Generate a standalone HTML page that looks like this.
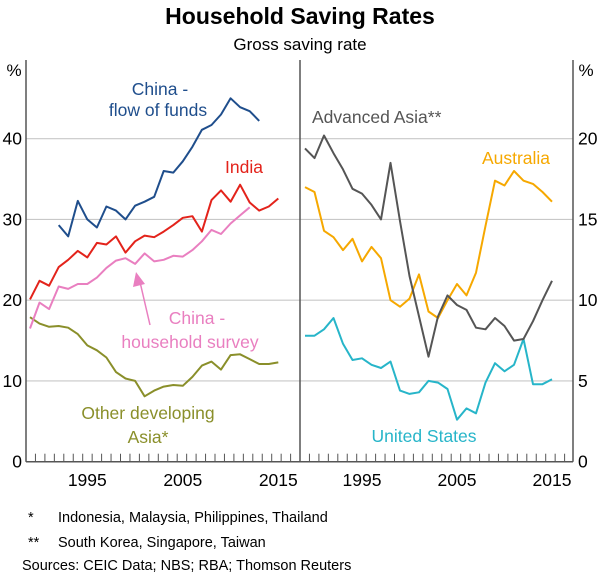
<!DOCTYPE html>
<html><head><meta charset="utf-8"><style>
body{margin:0;background:#fff;}
svg{display:block;font-family:"Liberation Sans",Arial,sans-serif;}
</style></head><body>
<svg id="c" width="600" height="573" viewBox="0 0 600 573">
<text x="300" y="24" text-anchor="middle" font-size="23" font-weight="bold" fill="#000">Household Saving Rates</text>
<text x="300" y="50" text-anchor="middle" font-size="17" fill="#000">Gross saving rate</text>
<text x="14" y="76" text-anchor="middle" font-size="17">%</text>
<text x="586" y="76" text-anchor="middle" font-size="17">%</text>
<g id="grid"></g><g id="series"></g><g id="axes"></g>
<g font-size="17.5">
<text x="160" y="95" text-anchor="middle" fill="#1f4e8c">China -</text>
<text x="158" y="116" text-anchor="middle" fill="#1f4e8c">flow of funds</text>
<text x="244" y="173" text-anchor="middle" fill="#e3231b">India</text>
<text x="197" y="324" text-anchor="middle" fill="#e97fc0">China -</text>
<text x="190" y="348" text-anchor="middle" fill="#e97fc0">household survey</text>
<text x="148" y="419" text-anchor="middle" fill="#8a8f2a">Other developing</text>
<text x="148" y="443" text-anchor="middle" fill="#8a8f2a">Asia*</text>
<text x="312" y="123" fill="#555">Advanced Asia**</text>
<text x="516" y="164" text-anchor="middle" fill="#f6a800">Australia</text>
<text x="424" y="442" text-anchor="middle" fill="#27b5c9">United States</text>
</g>
<g>
<line x1="150" y1="325" x2="140" y2="282" stroke="#e97fc0" stroke-width="1.5"/>
<polygon points="136,272 133,287 145,284" fill="#e97fc0"/>
</g>
<g font-size="14.5" fill="#000">
<text x="28" y="522">*</text>
<text x="58" y="522">Indonesia, Malaysia, Philippines, Thailand</text>
<text x="28" y="547">**</text>
<text x="58" y="547">South Korea, Singapore, Taiwan</text>
<text x="22" y="570">Sources:  CEIC Data; NBS; RBA; Thomson Reuters</text>
</g>
</svg>
<script>
const years = [1989,1990,1991,1992,1993,1994,1995,1996,1997,1998,1999,2000,2001,2002,2003,2004,2005,2006,2007,2008,2009,2010,2011,2012,2013,2014,2015];
const india = [20.1,22.4,21.8,24.1,25,26.1,25.3,27.1,26.9,27.9,25.9,27.3,28,27.8,28.5,29.3,30.2,30.4,28.5,32.4,33.6,32.2,34.3,32.1,31.1,31.6,32.6];
const chinaFof = [null,null,null,29.3,27.9,32.3,30,29,31.6,31.1,30,31.7,32.2,32.8,36,35.8,37.2,39,41.1,41.7,43,45,43.9,43.4,42.2,null,null];
const chinaSurvey = [16.5,19.7,18.9,21.7,21.4,22,22,22.8,24,24.9,25.2,24.5,25.8,24.8,25,25.5,25.4,26.2,27.3,28.7,28.2,29.5,30.5,31.5,null,null,null];
const otherAsia = [17.9,17.1,16.7,16.8,16.6,15.8,14.4,13.8,12.9,11.1,10.3,10,8.1,8.8,9.3,9.5,9.4,10.5,11.9,12.4,11.4,13.2,13.3,12.7,12.1,12.1,12.3];
const advAsia = [19.4,18.8,20.2,19.1,18.1,16.9,16.6,15.9,15,18.5,14.9,11.5,9,6.5,9,10.3,9.7,9.4,8.3,8.2,8.9,8.4,7.5,7.6,8.7,10,11.2];
const australia = [17,16.7,14.3,13.9,13.1,13.8,12.4,13.3,12.6,10,9.6,10.1,11.6,9.3,8.9,10,11,10.3,11.7,14.6,17.4,17.1,18,17.4,17.2,16.7,16.1];
const us = [7.8,7.8,8.2,8.9,7.3,6.3,6.4,6,5.8,6.2,4.4,4.2,4.3,5,4.9,4.5,2.6,3.3,3,4.9,6.1,5.6,6,7.6,4.8,4.8,5.1];
const leftTicks = [0,10,20,30,40];
const rightTicks = [0,5,10,15,20];
const xLabels = [1995,2005,2015];

const NS="http://www.w3.org/2000/svg";
const Y0=461.7, YTOP=138.7;
const yL=v=>Y0-(v/40)*(Y0-YTOP);
const yR=v=>Y0-(v/20)*(Y0-YTOP);
const xL=y=>30+(y-1989)*9.55;
const xR=y=>305+(y-1989)*9.5;
function el(t,a,p){const e=document.createElementNS(NS,t);for(const k in a)e.setAttribute(k,a[k]);p.appendChild(e);return e;}
const grid=document.getElementById('grid'),ser=document.getElementById('series'),ax=document.getElementById('axes');
leftTicks.forEach(v=>{
  if(v>0){const g=el('line',{x1:26,x2:300,y1:yL(v),y2:yL(v),stroke:'#c8c8c8','stroke-width':1.2},grid);
  
  }
  const t=el('text',{x:22,y:yL(v)+6,'text-anchor':'end','font-size':17.5},ax);t.textContent=v;
  
  
});
rightTicks.forEach(v=>{
  if(v>0){const g=el('line',{x1:300,x2:573,y1:yR(v),y2:yR(v),stroke:'#c8c8c8','stroke-width':1.2},grid);
  
  }
  const t=el('text',{x:578,y:yR(v)+6,'font-size':17.5},ax);t.textContent=v;
  
  
});
[26,300,573].forEach(x=>{const l=el('line',{x1:x,x2:x,y1:60,y2:Y0,stroke:'#555','stroke-width':1.5},ax);
  
  });
const b=el('line',{x1:26,x2:573,y1:Y0,y2:Y0,stroke:'#555','stroke-width':1.5},ax);


for(let i=0;i<29;i++){
  el('line',{x1:26+i*9.45,x2:26+i*9.45,y1:Y0,y2:Y0-8,stroke:'#555','stroke-width':1},ax);
  el('line',{x1:300+i*9.45,x2:300+i*9.45,y1:Y0,y2:Y0-8,stroke:'#555','stroke-width':1},ax);
}
xLabels.forEach(yr=>{
  const a=el('text',{x:xL(yr),y:486,'text-anchor':'middle','font-size':17.5},ax);a.textContent=yr;
  
  
  const c=el('text',{x:xR(yr),y:486,'text-anchor':'middle','font-size':17.5},ax);c.textContent=yr;
  
  
});
function line(data,xf,yf,color,name){
  let d='';data.forEach((v,i)=>{if(v==null)return;d+=(d?'L':'M')+xf(years[i]).toFixed(1)+','+yf(v).toFixed(1);});
  const p=el('path',{d:d,fill:'none',stroke:color,'stroke-width':2,'stroke-linejoin':'round'},ser);
  
  
}
line(otherAsia,xL,yL,'#8a8f2a','line-other-developing-asia');
line(chinaSurvey,xL,yL,'#e97fc0','line-china-household-survey');
line(india,xL,yL,'#e3231b','line-india');
line(chinaFof,xL,yL,'#1f4e8c','line-china-flow-of-funds');
line(us,xR,yR,'#27b5c9','line-united-states');
line(australia,xR,yR,'#f6a800','line-australia');
line(advAsia,xR,yR,'#555555','line-advanced-asia');
</script>
</body></html>
